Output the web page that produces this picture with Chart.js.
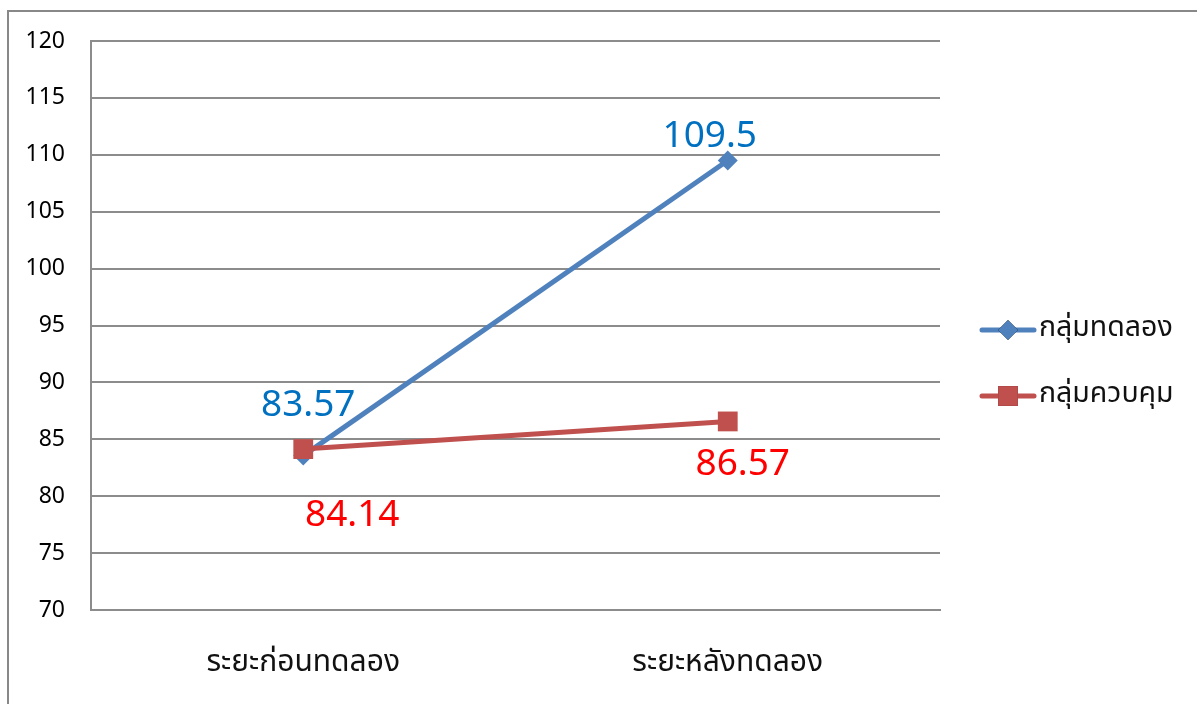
<!DOCTYPE html>
<html>
<head>
<meta charset="utf-8">
<script src="https://cdn.jsdelivr.net/npm/chart.js@4"></script>
<style>
  html, body { margin: 0; padding: 0; background: #fff; }
  #wrap { width: 1197px; height: 704px; position: relative; }
</style>
</head>
<body>
<div id="wrap"><canvas id="c" width="1197" height="704"></canvas></div>
<script>
// ---- data ----
const categories = ['ระยะก่อนทดลอง', 'ระยะหลังทดลอง'];
const seriesNames = ['กลุ่มทดลอง', 'กลุ่มควบคุม'];
const experimentValues = [83.57, 109.5];
const controlValues = [84.14, 86.57];
const yTicks = [70, 75, 80, 85, 90, 95, 100, 105, 110, 115, 120];

// ---- styles ----
const THAI_FONT = "'Noto Sans Thai', 'Noto Sans', 'DejaVu Sans', sans-serif";
const NUM_FONT = "'Noto Sans', 'Open Sans', sans-serif";
const labelStyle = [
  { color: '#0070C0', offsets: [[5, -50], [-18, -24]] },
  { color: '#FF0000', offsets: [[49, 66], [15, 43]] }
];

const borderPlugin = {
  id: 'outerBorder',
  beforeDraw(chart) {
    const ctx = chart.ctx;
    ctx.save();
    ctx.fillStyle = '#fff';
    ctx.fillRect(0, 0, chart.width, chart.height);
    ctx.strokeStyle = '#888888';
    ctx.lineWidth = 2;
    ctx.strokeRect(8, 11, 2000, 2000);
    ctx.restore();
  }
};

const labelPlugin = {
  id: 'valueLabels',
  afterDatasetsDraw(chart) {
    const ctx = chart.ctx;
    ctx.save();
    ctx.font = '37px ' + NUM_FONT;
    ctx.textAlign = 'center';
    ctx.textBaseline = 'middle';
    chart.data.datasets.forEach((ds, di) => {
      const meta = chart.getDatasetMeta(di);
      const st = labelStyle[di];
      ctx.fillStyle = st.color;
      meta.data.forEach((pt, i) => {
        const off = st.offsets[i];
        ctx.fillText(String(ds.data[i]), pt.x + off[0], pt.y + off[1]);
      });
    });
    ctx.restore();
  }
};

const legendPlugin = {
  id: 'sideLegend',
  afterDraw(chart) {
    const ctx = chart.ctx;
    const ys = [330, 396];
    ctx.save();
    chart.data.datasets.forEach((ds, di) => {
      const y = ys[di];
      ctx.strokeStyle = ds.borderColor;
      ctx.lineWidth = 5;
      ctx.lineCap = 'round';
      ctx.beginPath();
      ctx.moveTo(982, y);
      ctx.lineTo(1034, y);
      ctx.stroke();
      Chart.helpers.drawPoint(ctx, {
        pointStyle: ds.pointStyle,
        radius: ds.pointRadius,
        borderWidth: 0
      }, 1008, y);
      ctx.fillStyle = ds.pointBackgroundColor;
      ctx.fill();
      ctx.fillStyle = '#111111';
      ctx.font = '28.5px ' + THAI_FONT;
      ctx.textAlign = 'left';
      ctx.textBaseline = 'middle';
      ctx.fillText(ds.label, 1039, y);
    });
    ctx.restore();
  }
};

new Chart(document.getElementById('c'), {
  type: 'line',
  data: {
    labels: categories,
    datasets: [
      {
        label: seriesNames[0],
        data: experimentValues,
        borderColor: '#4F81BD',
        backgroundColor: '#4F81BD',
        pointBackgroundColor: '#4F81BD',
        pointBorderColor: '#4F81BD',
        pointStyle: 'rectRot',
        pointRadius: 10,
        pointBorderWidth: 0,
        borderWidth: 5,
        order: 1
      },
      {
        label: seriesNames[1],
        data: controlValues,
        borderColor: '#C0504D',
        backgroundColor: '#C0504D',
        pointBackgroundColor: '#C0504D',
        pointBorderColor: '#C0504D',
        pointStyle: 'rect',
        pointRadius: 14,
        pointBorderWidth: 0,
        borderWidth: 5,
        order: 0
      }
    ]
  },
  options: {
    responsive: false,
    animation: false,
    events: [],
    layout: { padding: { left: 0, top: 41, right: 257, bottom: 0 } },
    plugins: {
      legend: { display: false },
      tooltip: { enabled: false },
      title: { display: false }
    },
    scales: {
      x: {
        offset: true,
        grid: { display: false, drawTicks: false },
        border: { display: true, color: '#8c8c8c', width: 2 },
        ticks: {
          color: '#111111',
          font: { family: THAI_FONT, size: 30 },
          padding: 37,
          maxRotation: 0
        },
        afterFit(scale) { scale.height = 94; }
      },
      y: {
        min: 70,
        max: 120,
        afterBuildTicks(scale) { scale.ticks = yTicks.map(v => ({ value: v })); },
        grid: { color: '#8c8c8c', lineWidth: 2, drawTicks: false },
        border: { display: true, color: '#8c8c8c', width: 2 },
        ticks: {
          color: '#000000',
          font: { family: NUM_FONT, size: 23 },
          padding: 26
        },
        afterFit(scale) { scale.width = 91; }
      }
    }
  },
  plugins: [borderPlugin, labelPlugin, legendPlugin]
});
</script>
</body>
</html>
